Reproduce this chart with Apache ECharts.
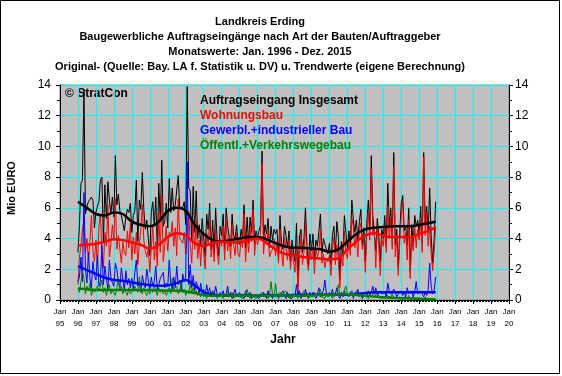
<!DOCTYPE html>
<html>
<head>
<meta charset="utf-8">
<script src="https://cdn.jsdelivr.net/npm/echarts@6/dist/echarts.min.js"></script>
<style>
	html, body { margin: 0; padding: 0; background: #fff; }
	#chart { width: 562px; height: 376px; }
</style>
</head>
<body>
<div id="chart"></div>
<script>
// Monatswerte Jan. 1996 - Dez. 2015 (Mio EURO), eine Zeile je Jahr
var firstYear = 1996;

// Auftragseingang Insgesamt
var totalRaw = [
	3.1, 4.9, 7.6, 7.8, 13.7, 5.6, 6.1, 6.4, 6.4, 6.7, 6.5, 4.7,
	5.7, 6.1, 6.4, 7.8, 8.0, 3.7, 7.5, 5.3, 7.7, 6.5, 5.6, 6.7,
	5.4, 9.4, 6.2, 6.9, 5.8, 5.5, 5.6, 4.5, 5.4, 5.9, 5.7, 6.3,
	4.4, 5.5, 5.8, 7.8, 3.8, 6.5, 5.9, 8.3, 5.9, 4.6, 5.2, 5.3,
	2.9, 5.7, 6.4, 4.8, 6.7, 3.3, 7.6, 5.1, 9.1, 4.8, 5.1, 6.3,
	4.7, 7.9, 5.7, 7.3, 5.8, 6.2, 6.1, 8.1, 6.0, 6.0, 6.0, 6.4,
	4.9, 13.9, 7.3, 7.1, 3.8, 7.4, 4.4, 7.1, 4.0, 4.9, 3.6, 5.3,
	4.1, 2.8, 5.6, 4.6, 6.3, 3.3, 5.2, 3.1, 6.0, 3.8, 2.9, 4.8,
	4.2, 5.6, 3.3, 6.0, 4.8, 4.8, 3.5, 5.6, 4.2, 4.0, 4.9, 3.8,
	3.6, 4.6, 4.0, 6.2, 3.4, 5.4, 3.7, 5.4, 4.4, 6.5, 3.7, 4.5,
	4.1, 4.5, 4.9, 9.7, 3.9, 4.9, 4.3, 5.3, 3.4, 4.8, 3.9, 4.6,
	4.3, 4.6, 2.8, 5.5, 3.6, 3.3, 4.8, 4.2, 3.4, 4.5, 2.5, 3.9,
	3.2, 2.5, 5.0, 0.9, 4.1, 4.6, 3.1, 4.0, 6.0, 3.5, 2.2, 4.3,
	3.2, 4.3, 2.6, 3.9, 3.5, 4.5, 5.6, 3.0, 4.0, 3.6, 3.6, 3.0,
	3.7, 2.3, 4.2, 4.8, 3.1, 5.1, 4.1, 1.3, 3.8, 2.9, 5.5, 4.4,
	3.4, 4.5, 3.6, 6.5, 5.2, 4.4, 5.2, 3.9, 5.1, 5.9, 3.6, 4.7,
	2.5, 5.0, 6.5, 4.7, 9.4, 5.5, 5.6, 3.2, 5.3, 4.2, 2.5, 4.6,
	4.0, 5.5, 3.5, 7.6, 4.8, 6.0, 4.1, 9.6, 3.6, 4.6, 2.1, 4.4,
	6.3, 6.8, 4.5, 4.8, 3.6, 6.0, 1.8, 4.9, 3.7, 5.5, 4.8, 5.2,
	4.3, 6.1, 3.7, 9.6, 5.0, 6.1, 4.4, 7.3, 4.1, 2.4, 4.0, 6.4
];

// Wohnungsbau
var wohnRaw = [
	1.0, 2.8, 3.5, 4.6, 5.2, 3.1, 4.0, 2.6, 3.8, 5.5, 3.2, 2.5,
	3.9, 2.2, 4.8, 5.6, 3.0, 2.1, 4.4, 3.5, 6.2, 2.8, 3.6, 4.9,
	3.9, 6.6, 3.3, 4.2, 4.3, 2.4, 3.8, 3.1, 2.9, 4.5, 3.4, 5.0,
	2.6, 4.1, 3.0, 4.4, 2.3, 3.7, 4.6, 6.2, 3.9, 3.2, 2.8, 3.3,
	1.8, 3.4, 4.9, 2.6, 3.8, 2.2, 5.7, 3.1, 6.8, 2.5, 3.6, 4.8,
	3.2, 4.4, 4.1, 5.1, 3.5, 4.7, 2.9, 6.6, 4.0, 4.1, 3.7, 4.4,
	3.0, 4.2, 5.8, 3.6, 2.4, 4.9, 3.3, 5.2, 2.7, 3.9, 2.2, 4.3,
	3.1, 2.0, 4.4, 3.6, 5.1, 2.8, 3.9, 2.5, 4.6, 3.2, 2.3, 4.0,
	3.5, 4.8, 2.6, 5.3, 3.2, 4.1, 2.7, 4.9, 3.6, 2.9, 4.4, 3.0,
	2.8, 4.0, 3.4, 5.6, 2.5, 4.3, 3.1, 4.7, 3.8, 5.9, 2.9, 4.1,
	3.6, 4.0, 4.2, 8.9, 3.0, 4.3, 3.7, 4.5, 2.8, 3.1, 3.3, 4.0,
	2.9, 3.8, 2.4, 4.6, 3.1, 2.2, 4.1, 3.4, 2.6, 3.9, 2.0, 3.3,
	2.5, 1.8, 3.6, 0.4, 2.9, 4.2, 2.3, 3.1, 5.0, 2.7, 1.9, 3.4,
	2.6, 3.5, 1.7, 3.4, 2.8, 3.2, 4.6, 2.4, 3.0, 2.1, 2.7, 2.5,
	2.9, 1.6, 3.3, 4.1, 2.3, 3.6, 2.7, 0.8, 3.0, 2.2, 4.5, 3.1,
	2.7, 3.8, 2.9, 5.3, 4.8, 3.4, 4.2, 2.8, 4.6, 5.0, 3.3, 4.0,
	1.8, 4.4, 5.7, 3.9, 8.6, 4.2, 4.6, 2.1, 4.8, 3.6, 1.6, 4.0,
	3.5, 4.7, 3.1, 6.1, 4.0, 5.3, 3.3, 8.7, 2.8, 4.2, 1.6, 3.8,
	5.5, 6.4, 3.7, 4.4, 2.6, 5.2, 1.4, 4.1, 3.2, 4.9, 3.4, 4.6,
	3.9, 5.3, 3.1, 9.3, 4.2, 5.7, 3.5, 4.8, 3.0, 1.9, 3.2, 4.8
];

// Gewerbl.+industrieller Bau
var gewerbRaw = [
	1.2, 1.5, 2.8, 1.2, 7.0, 2.0, 1.1, 3.1, 1.4, 0.8, 2.5, 1.6,
	1.3, 2.9, 0.9, 1.2, 3.6, 1.0, 2.2, 1.4, 0.7, 2.6, 1.5, 1.1,
	0.9, 2.4, 2.0, 1.2, 0.8, 2.1, 1.3, 0.6, 1.9, 1.0, 1.4, 0.8,
	1.4, 0.7, 1.8, 2.6, 0.9, 1.2, 0.5, 1.6, 1.1, 0.8, 2.0, 1.3,
	0.6, 1.5, 0.9, 1.2, 2.2, 0.7, 1.0, 1.4, 1.5, 1.8, 0.8, 1.1,
	0.9, 2.6, 1.1, 0.7, 1.5, 0.8, 2.2, 1.0, 1.3, 0.6, 1.7, 1.2,
	1.5, 9.0, 1.0, 2.3, 0.8, 1.6, 0.6, 1.2, 0.9, 0.4, 1.1, 0.5,
	0.7, 0.3, 1.0, 0.4, 0.8, 0.2, 0.6, 0.3, 0.9, 0.4, 0.2, 0.5,
	0.3, 0.6, 0.2, 0.4, 0.9, 0.3, 0.5, 0.1, 0.4, 0.7, 0.2, 0.3,
	0.5, 0.2, 0.4, 0.1, 0.6, 0.3, 0.2, 0.5, 0.1, 0.3, 0.4, 0.2,
	0.3, 0.1, 0.4, 0.2, 0.5, 0.3, 0.1, 0.6, 0.2, 0.4, 0.1, 0.3,
	0.2, 0.4, 0.1, 0.3, 0.2, 0.6, 0.3, 0.1, 0.5, 0.2, 0.3, 0.1,
	0.4, 0.2, 1.0, 0.3, 0.6, 0.1, 0.4, 0.2, 0.7, 0.3, 0.1, 0.5,
	0.2, 0.5, 0.3, 0.1, 0.4, 0.8, 0.2, 0.3, 0.6, 1.3, 0.4, 0.2,
	0.5, 0.3, 0.7, 0.2, 0.4, 0.8, 0.3, 0.1, 0.5, 0.2, 0.6, 0.3,
	0.2, 0.4, 0.3, 0.6, 0.1, 0.5, 0.3, 0.7, 0.2, 0.4, 0.1, 0.3,
	0.4, 0.2, 0.6, 0.3, 0.5, 0.9, 0.4, 0.8, 0.3, 0.2, 0.6, 0.4,
	0.3, 0.5, 0.2, 1.1, 0.6, 0.4, 0.3, 0.7, 0.5, 0.2, 0.4, 0.3,
	0.6, 0.3, 0.5, 0.2, 0.8, 0.4, 0.3, 0.6, 0.2, 0.5, 1.2, 0.4,
	0.3, 0.6, 0.4, 0.2, 0.5, 0.3, 0.7, 2.4, 0.9, 0.4, 0.6, 1.5
];

// Öffentl.+Verkehrswegebau
var oeffRaw = [
	0.8, 0.5, 1.2, 1.9, 1.4, 0.4, 0.9, 0.6, 1.1, 0.3, 0.7, 0.5,
	0.4, 0.9, 0.6, 0.9, 1.3, 0.5, 0.8, 0.3, 0.7, 1.0, 0.4, 0.6,
	0.5, 0.3, 0.8, 1.4, 0.6, 0.9, 0.4, 0.7, 0.5, 0.3, 0.8, 0.4,
	0.3, 0.6, 0.9, 0.7, 0.5, 1.5, 0.7, 0.4, 0.8, 0.5, 0.3, 0.6,
	0.4, 0.7, 0.5, 0.9, 0.6, 0.3, 0.8, 0.5, 0.7, 0.4, 0.6, 0.3,
	0.5, 0.8, 0.4, 1.4, 0.7, 0.6, 0.9, 0.4, 0.6, 1.2, 0.5, 0.7,
	0.3, 0.6, 0.4, 1.1, 0.5, 0.8, 0.4, 0.6, 0.3, 0.5, 0.2, 0.4,
	0.2, 0.4, 0.1, 0.5, 0.3, 0.2, 0.6, 0.2, 0.4, 0.1, 0.3, 0.2,
	0.3, 0.1, 0.4, 0.2, 0.6, 0.3, 0.2, 0.5, 0.1, 0.3, 0.2, 0.4,
	0.2, 0.3, 0.1, 0.4, 0.2, 0.7, 0.3, 0.1, 0.4, 0.2, 0.3, 0.1,
	0.1, 0.3, 0.2, 0.5, 0.3, 0.2, 0.4, 0.1, 0.3, 1.2, 0.4, 0.2,
	1.1, 0.3, 0.2, 0.5, 0.2, 0.4, 0.3, 0.6, 0.2, 0.3, 0.1, 0.4,
	0.2, 0.4, 0.3, 0.1, 0.5, 0.2, 0.3, 0.6, 0.2, 0.4, 0.1, 0.3,
	0.3, 0.2, 0.5, 0.3, 0.2, 0.4, 0.7, 0.2, 0.3, 0.1, 0.4, 0.2,
	0.2, 0.3, 0.1, 0.4, 0.3, 0.6, 1.0, 0.3, 0.2, 0.4, 0.3, 0.9,
	0.4, 0.2, 0.3, 0.5, 0.2, 0.4, 0.6, 0.3, 0.2, 0.4, 0.1, 0.3,
	0.2, 0.3, 0.1, 0.4, 0.2, 0.3, 0.5, 0.2, 0.1, 0.3, 0.2, 0.1,
	0.1, 0.2, 0.1, 0.3, 0.1, 0.2, 0.4, 0.1, 0.2, 0.1, 0.0, 0.2,
	0.1, 0.0, 0.2, 0.1, 0.1, 0.3, 0.0, 0.1, 0.2, 0.0, 0.1, 0.1,
	0.0, 0.1, 0.1, 0.0, 0.2, 0.0, 0.1, 0.0, 0.1, 0.0, 0.1, 0.0
];

var trendYears = [
	1996, 1996.5, 1997, 1997.5, 1998, 1998.5, 1999, 1999.5, 2000, 2000.5,
	2001, 2001.5, 2002, 2002.5, 2003, 2003.5, 2004, 2004.5, 2005, 2005.5,
	2006, 2006.5, 2007, 2007.5, 2008, 2008.5, 2009, 2009.5, 2010, 2010.5,
	2011, 2011.5, 2012, 2012.5, 2013, 2013.5, 2014, 2014.5, 2015, 2015.5, 2015.92
];
var totalTrend = [
	6.4, 6.0, 5.6, 5.5, 5.7, 5.6, 5.1, 4.9, 4.8, 5.1,
	5.8, 6.0, 5.8, 4.9, 4.3, 3.9, 3.8, 3.9, 4.0, 4.1,
	4.1, 3.95, 3.7, 3.5, 3.4, 3.4, 3.35, 3.3, 3.15, 3.3,
	3.8, 4.3, 4.6, 4.7, 4.75, 4.8, 4.8, 4.8, 4.9, 5.0, 5.1
];
var wohnTrend = [
	3.55, 3.6, 3.65, 3.8, 3.95, 3.9, 3.75, 3.6, 3.35, 3.6,
	4.1, 4.35, 4.2, 3.7, 3.5, 3.7, 3.8, 3.75, 3.75, 3.9,
	4.0, 3.7, 3.3, 3.0, 2.9, 2.8, 2.75, 2.7, 2.65, 2.7,
	3.3, 3.8, 4.2, 4.35, 4.2, 4.1, 4.1, 4.1, 4.3, 4.5, 4.75
];
var gewerbTrend = [
	2.2, 1.95, 1.7, 1.45, 1.3, 1.25, 1.15, 1.05, 0.98, 0.92,
	0.95, 1.1, 1.3, 0.95, 0.5, 0.35, 0.3, 0.3, 0.3, 0.3,
	0.3, 0.3, 0.3, 0.3, 0.32, 0.35, 0.35, 0.35, 0.35, 0.35,
	0.35, 0.38, 0.45, 0.5, 0.5, 0.5, 0.5, 0.5, 0.5, 0.5, 0.5
];
var oeffTrend = [
	0.75, 0.7, 0.65, 0.65, 0.65, 0.65, 0.65, 0.65, 0.65, 0.63,
	0.62, 0.6, 0.55, 0.45, 0.33, 0.28, 0.27, 0.27, 0.27, 0.27,
	0.27, 0.28, 0.28, 0.28, 0.28, 0.28, 0.3, 0.32, 0.34, 0.36,
	0.38, 0.33, 0.28, 0.22, 0.18, 0.15, 0.12, 0.1, 0.08, 0.06, 0.05
];

var seriesNames = ['Auftragseingang Insgesamt', 'Wohnungsbau', 'Gewerbl.+industrieller Bau', 'Öffentl.+Verkehrswegebau'];
var seriesColors = ['#000000', '#ff0000', '#0000ff', '#008000'];
var titleLines = [
	'Landkreis Erding',
	'Baugewerbliche Auftragseingänge nach Art der Bauten/Auftraggeber',
	'Monatswerte: Jan. 1996 - Dez. 2015',
	'Original- (Quelle: Bay. LA f. Statistik u. DV) u. Trendwerte (eigene Berechnung)'
];

var font = '"Liberation Sans", Arial, sans-serif';

function each(arr, fn) { for (var i = 0; i < arr.length; i++) fn(arr[i], i); }

// Monatswerte -> [Jahr, Wert]
function monthly(values) {
	var out = [];
	each(values, function(v, i) { out.push([firstYear + i / 12, v]); });
	return out;
}
function trend(values) {
	var out = [];
	each(values, function(v, i) { out.push([trendYears[i], v]); });
	return out;
}

var raws = [totalRaw, wohnRaw, gewerbRaw, oeffRaw];
var trends = [totalTrend, wohnTrend, gewerbTrend, oeffTrend];
var series = [];
// Originalwerte zuerst, Trendlinien darueber
each(raws, function(r, i) {
	series.push({
		name: seriesNames[i],
		type: 'line',
		symbol: 'none',
		data: monthly(r),
		lineStyle: { color: seriesColors[i], width: 1 },
		itemStyle: { color: seriesColors[i] }
	});
});
each(trends, function(t, i) {
	series.push({
		name: seriesNames[i],
		type: 'line',
		symbol: 'none',
		smooth: 0.4,
		data: trend(t),
		lineStyle: { color: seriesColors[i], width: 2.5 },
		itemStyle: { color: seriesColors[i] }
	});
});

// Titel und Beschriftungen
var graphics = [];
each(titleLines, function(t, i) {
	graphics.push({
		type: 'text', x: 260, y: 22 + i * 15,
		style: { text: t, fill: '#000', textAlign: 'center', textVerticalAlign: 'middle', font: 'bold 11px ' + font }
	});
});
graphics.push({
	type: 'text', x: 65, y: 94,
	style: { text: '© StratCon', fill: '#000', textVerticalAlign: 'middle', font: 'bold 12px ' + font }
});
graphics.push({
	type: 'text', x: 12, y: 188, rotation: Math.PI / 2,
	style: { text: 'Mio EURO', fill: '#000', textAlign: 'center', textVerticalAlign: 'middle', font: 'bold 11px ' + font }
});
graphics.push({
	type: 'text', x: 283, y: 340,
	style: { text: 'Jahr', fill: '#000', textAlign: 'center', textVerticalAlign: 'middle', font: 'bold 12px ' + font }
});
graphics.push({
	type: 'rect', shape: { x: 0.5, y: 0.5, width: 559, height: 373 },
	style: { fill: 'none', stroke: '#000', lineWidth: 1 }, silent: true
});

var legendData = [];
each(seriesNames, function(n, i) {
	legendData.push({ name: n, icon: 'none', textStyle: { color: seriesColors[i] } });
});

function yAxis(pos, margin, split) {
	return {
		type: 'value', min: 0, max: 14, interval: 2, position: pos,
		axisLine: { show: true, lineStyle: { color: '#000' } },
		axisTick: { show: true, length: 4, lineStyle: { color: '#000' } },
		minorTick: { show: true, splitNumber: 2, length: 3, lineStyle: { color: '#000' } },
		splitLine: { show: split, lineStyle: { color: '#00ffff', width: 1 } },
		axisLabel: { color: '#000', fontSize: 12, fontFamily: font, margin: margin }
	};
}

var option = {
	animation: false,
	backgroundColor: '#fff',
	textStyle: { fontFamily: font },
	grid: {
		left: 60, right: 53, top: 85, bottom: 76,
		show: true, backgroundColor: '#c0c0c0', borderColor: '#808080', borderWidth: 1
	},
	legend: {
		orient: 'vertical', left: 195, top: 95, padding: 0,
		itemWidth: 0, itemHeight: 0, itemGap: 3,
		selectedMode: false,
		textStyle: { fontWeight: 'bold', fontSize: 12, fontFamily: font },
		data: legendData
	},
	xAxis: {
		type: 'value', min: 1995, max: 2020, interval: 1,
		axisLine: { show: true, onZero: false, lineStyle: { color: '#000' } },
		axisTick: { show: true, length: 4, lineStyle: { color: '#000' } },
		minorTick: { show: true, splitNumber: 12, length: 2, lineStyle: { color: '#000' } },
		splitLine: { show: true, lineStyle: { color: '#00ffff', width: 1 } },
		axisLabel: {
			color: '#000', fontSize: 8, lineHeight: 12, margin: 6, fontFamily: font,
			formatter: function(v) { return 'Jan\n' + String(v).slice(2); }
		}
	},
	yAxis: [yAxis('left', 9, true), yAxis('right', 6, false)],
	graphic: graphics,
	series: series
};

var chart = echarts.init(document.getElementById('chart'));
chart.setOption(option);
</script>
</body>
</html>
